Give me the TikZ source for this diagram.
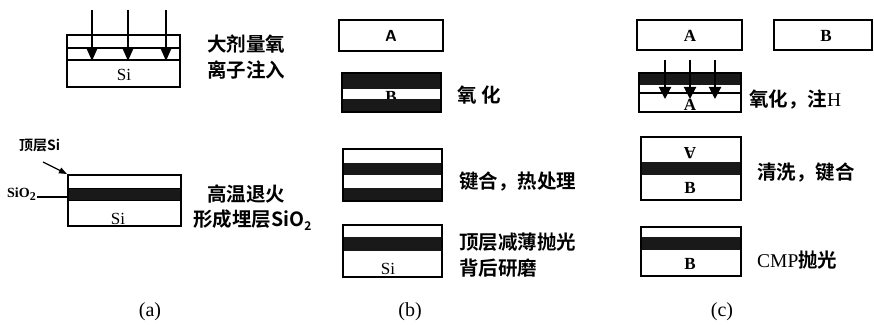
\documentclass[tikz,border=0pt]{standalone}
\usepackage{fontspec}
\setmainfont{Liberation Serif}
\newfontfamily\cjk{Noto Sans CJK SC}[BoldFont={Noto Sans CJK SC Bold}]
\usetikzlibrary{arrows.meta}
\tikzset{
  wafer/.style={draw=black, line width=1.6pt, fill=white},
  oxide/.style={fill=black!90, draw=black, line width=1pt},
  thinline/.style={line width=1.2pt},
  captxt/.style={font=\cjk\bfseries\fontsize{19.5}{23}\selectfont, anchor=west, inner sep=0pt},
  lett/.style={font=\fontsize{17}{17}\selectfont, inner sep=0pt},
  boldlett/.style={font=\bfseries\fontsize{17}{17}\selectfont, inner sep=0pt},
  sublab/.style={font=\fontsize{20}{20}\selectfont, inner sep=0pt},
  implant/.style={line width=1.8pt, -{Triangle[length=12pt,width=10pt]}},
  smalllab/.style={font=\cjk\bfseries\fontsize{14}{14}\selectfont, inner sep=1pt}
}
\newcommand{\subtwo}{\raisebox{-0.4ex}{\fontsize{12}{12}\selectfont 2}}
\begin{document}
\begin{tikzpicture}[x=1pt,y=-1pt]
\useasboundingbox (0,0) rectangle (874,326);
% ---------- (a) top ----------
\draw[wafer] (67,35) rectangle (180,87);
\draw[thinline] (67,48) -- (180,48);
\draw[thinline] (67,60) -- (180,60);
\node[lett] (asi1) at (124,75) {Si};
\foreach \x/\n in {92/1,128/2,166/3}{
  \coordinate (at\n) at (\x,10);
  \coordinate (ab\n) at (\x,61);
  \draw[implant] (at\n) -- (ab\n);
}
\node[captxt] (acap1) at (207,44) {大剂量氧};
\node[captxt] (acap2) at (207,70) {离子注入};
% ---------- (a) bottom ----------
\draw[wafer] (68,175) rectangle (181,226);
\draw[oxide] (68,188) rectangle (181,200);
\draw[line width=1.6pt] (68,175) rectangle (181,226);
\node[lett] (asi2) at (118,219) {Si};
\coordinate (corner) at (67,174);
\node[smalllab, anchor=west] (topsi) at (18,146) {顶层Si};
\draw[line width=1.2pt, -{Triangle[length=8pt,width=6pt]}] (43,162) -- (corner);
\node[font=\bfseries\fontsize{14}{14}\selectfont, inner sep=1pt, anchor=west] (sio2) at (6,194) {SiO\subtwo};
\coordinate (bandpt) at (68,197);
\draw[line width=1.2pt] (sio2.east |- bandpt) -- (bandpt);
\node[captxt] (acap3) at (207,194) {高温退火};
\node[captxt] (acap4) at (193,220) {形成埋层SiO\subtwo};
\node[sublab] (la) at (150,312) {(a)};
% ---------- (b) ----------
\draw[wafer] (339,20) rectangle (443,51);
\node[boldlett, font=\sffamily\bfseries\fontsize{16}{16}\selectfont] (bA) at (391,36) {A};
% oxidized B
\draw[wafer] (342,73) rectangle (441,112);
\node[boldlett] (bB) at (391,97) {B};
\fill[black!90] (342,73) rectangle (441,89);
\fill[black!90] (342,99) rectangle (441,112);
\draw[line width=1.6pt] (342,73) rectangle (441,112);
\node[captxt] (bcap1) at (457,95) {氧\hspace{0.25em}化};
% bonded
\draw[wafer] (343,149) rectangle (442,201);
\fill[black!90] (343,163) rectangle (442,175);
\fill[black!90] (343,188) rectangle (442,201);
\draw[line width=1.6pt] (343,149) rectangle (442,201);
\node[captxt] (bcap2) at (459,182) {键合，热处理};
% final
\draw[wafer] (343,225) rectangle (442,277);
\fill[black!90] (343,237) rectangle (442,251);
\draw[line width=1.6pt] (343,225) rectangle (442,277);
\node[lett] (bsi) at (388,269) {Si};
\node[captxt] (bcap3) at (459,242) {顶层减薄抛光};
\node[captxt] (bcap4) at (459,268) {背后研磨};
\node[sublab] (lb) at (410,312) {(b)};
% ---------- (c) ----------
\draw[wafer] (637,20) rectangle (742,50);
\node[boldlett] (cA) at (690,36) {A};
\draw[wafer] (774,20) rectangle (872,50);
\node[boldlett] (cB) at (826,36) {B};
% oxidized A with H implant
\draw[wafer] (639,73) rectangle (741,112);
\fill[black!90] (639,73) rectangle (741,85);
\draw[thinline] (639,93) -- (741,93);
\draw[line width=1.6pt] (639,73) rectangle (741,112);
\node[boldlett] (cA2) at (690,105) {A};
\foreach \x/\n in {665/1,690/2,715/3}{
  \coordinate (ct\n) at (\x,60);
  \coordinate (cb\n) at (\x,99);
  \draw[line width=2pt, -{Triangle[length=12pt,width=12pt]}] (ct\n) -- (cb\n);
}
\node[captxt] (ccap1) at (749,100) {氧化，注{\rmfamily\mdseries H}};
% bonded
\draw[wafer] (641,137) rectangle (741,200);
\fill[black!90] (641,162) rectangle (741,175);
\draw[line width=1.6pt] (641,137) rectangle (741,200);
\node[boldlett] (cAinv) at (690,153) {\rotatebox{180}{A}};
\node[boldlett] (cB2) at (690,188) {B};
\node[captxt] (ccap2) at (757,173) {清洗，键合};
% CMP
\draw[wafer] (641,227) rectangle (741,276);
\fill[black!90] (641,237) rectangle (741,250);
\draw[line width=1.6pt] (641,227) rectangle (741,276);
\node[boldlett] (cB3) at (690,264) {B};
\node[captxt] (ccap3) at (757,260) {{\rmfamily\mdseries CMP}抛光};
\node[sublab] (lc) at (722,312) {(c)};
\end{tikzpicture}
\end{document}
